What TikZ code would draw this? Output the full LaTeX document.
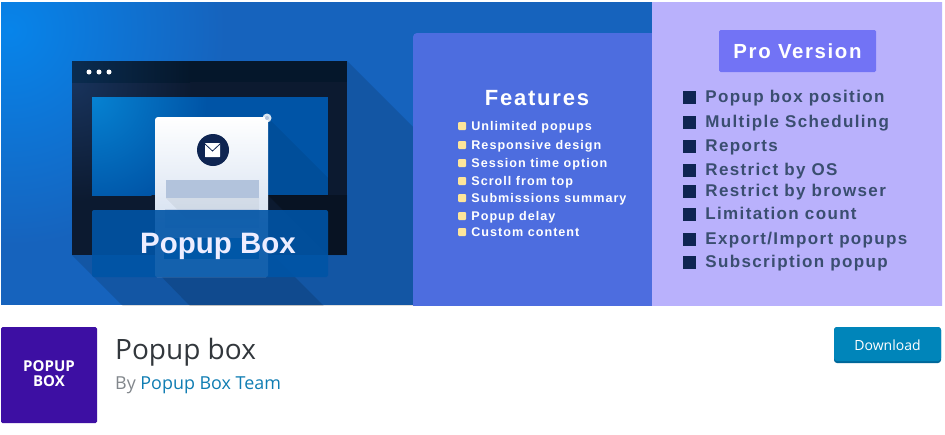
\documentclass[tikz,border=0pt]{standalone}
\usepackage{fontspec}
\usetikzlibrary{positioning}
\newfontfamily\bannerfont[LetterSpace=8]{Liberation Sans}
\newfontfamily\headfont{Liberation Sans}
\newfontfamily\wpfont{Open Sans}
\definecolor{bannerblue}{HTML}{1663BD}
\definecolor{bannerglow}{HTML}{0784EA}
\definecolor{windowdark}{HTML}{0C1A30}
\definecolor{windowglow}{HTML}{18335C}
\definecolor{barblue}{HTML}{05172B}
\definecolor{barglow}{HTML}{0A2C50}
\definecolor{screenblue}{HTML}{0054A6}
\definecolor{screenglow}{HTML}{0682D2}
\definecolor{popupfade}{HTML}{D3DFF0}
\definecolor{fieldgray}{HTML}{B2C3DC}
\definecolor{featpanel}{HTML}{4D6DDF}
\definecolor{propanel}{HTML}{B9B1FC}
\definecolor{probutton}{HTML}{7273F5}
\definecolor{navy}{HTML}{0F2552}
\definecolor{protext}{HTML}{3A4E70}
\definecolor{cream}{HTML}{FDE59A}
\definecolor{logopurple}{HTML}{3D0FA3}
\definecolor{wplink}{HTML}{0F7DB3}
\definecolor{wpgray}{HTML}{82878C}
\definecolor{wptitle}{HTML}{32373C}
\definecolor{wpbutton}{HTML}{0085BA}
\definecolor{wpedge}{HTML}{006799}
\begin{document}
\begin{tikzpicture}[
	x=1pt, y=-1pt,
	featmark/.style={
		fill=cream, rounded corners=1pt,
		minimum size=8pt, inner sep=0pt
	},
	featitem/.style={
		text=white, inner sep=0pt,
		text height=10pt, text depth=2pt,
		font=\bannerfont\bfseries\fontsize{12.6}{14}\selectfont
	},
	promark/.style={
		fill=navy, minimum size=13pt, inner sep=0pt
	},
	proitem/.style={
		text=protext, inner sep=0pt,
		text height=13pt, text depth=2pt,
		font=\bannerfont\bfseries\fontsize{17}{20}\selectfont
	},
	lid/.style={fill=black, opacity=.13}
	]
	\useasboundingbox (0,0) rectangle (945,434);
	\fill[white] (0,0) rectangle (945,434);
	\begin{scope}
		\clip (1,2) rectangle (942,305);
		\fill[bannerblue] (1,2) rectangle (942,305);
		\shade[inner color=bannerglow, outer color=bannerblue] (10,30) circle (215);
		% long shadow of the window
		\fill[lid] (347,61) -- (600,314) -- (131,314) -- (72,255) -- cycle;
		\begin{scope}
			\clip (72,61) rectangle (347,255);
			\fill[windowdark] (72,61) rectangle (347,255);
			\shade[inner color=windowglow, outer color=windowdark] (72,82) circle (120);
			\fill[barblue] (72,61) rectangle (347,82);
			\shade[left color=barglow, right color=barblue] (72,61) rectangle (190,82);
		\end{scope}
		\foreach \i in {0,1,2}
			\fill[white] (89+10*\i,72) circle (2.5);
		\begin{scope}
			\clip (92,97) rectangle (328,195);
			\fill[screenblue] (92,97) rectangle (328,195);
			\shade[inner color=screenglow, outer color=screenblue] (92,97) circle (115);
			% shadow of the popup
			\fill[black, opacity=.07] (268,118) -- (420,270) -- (268,270) -- cycle;
		\end{scope}
		\fill[black, opacity=.25] (268,195) -- (347,195) -- (347,255) -- (328,255) -- cycle;
		\fill[lid] (268,250) -- (324,306) -- (190,306) -- (155,270) -- cycle;
		\shade[top color=white, bottom color=popupfade, rounded corners=3pt] (155,117) rectangle (268,230);
		\fill[popupfade, rounded corners=2pt] (155,225) rectangle (268,277);
		\fill[white, opacity=.85] (267,118) circle (4.5);
		\fill[fieldgray] (267,118) circle (2);
		\fill[navy] (213,150) circle (16);
		\fill[white, rounded corners=.5pt] (205,143) rectangle (220,157);
		\draw[navy, thick] (205,144) -- (212.5,151) -- (220,144);
		\fill[black, opacity=.05] (166,198) -- (186,218) -- (259,218) -- (259,198) -- cycle;
		\fill[fieldgray] (166,180) rectangle (259,198);
		\fill[fieldgray, opacity=.6] (165,209) rectangle (259,228);
		\fill[screenblue!80!cyan] (164,238) rectangle (259,259);
		\fill[screenblue, opacity=.9, rounded corners=2pt] (92,210) rectangle (328,277);
		\node[text=white!93!blue, inner sep=0pt, font=\headfont\bfseries\fontsize{29.5}{32}\selectfont] (brand) at (218,246) {Popup Box};
		\fill[featpanel, rounded corners=4pt] (413,33) rectangle (680,320);
		\fill[propanel, rounded corners=2pt] (652,-5) rectangle (960,320);
	\end{scope}
	\node[text=white, inner sep=0pt, font=\bannerfont\bfseries\fontsize{22}{26}\selectfont] (features) at (537,98) {Features};
	\foreach \i/\y/\txt in {1/126/Unlimited popups, 2/145/Responsive design, 3/163/Session time option, 4/181/Scroll from top, 5/198/Submissions summary, 6/216/Popup delay, 7/232/Custom content}
	{
		\node[featmark] (fm\i) at (462,\y) {};
		\node[featitem, right=5pt of fm\i] (ft\i) {\txt};
	}
	\node[fill=probutton, rounded corners=1.5pt, minimum width=157pt, minimum height=42pt, text=white, font=\bannerfont\bfseries\fontsize{20.4}{24}\selectfont] (pro) at (797.5,51) {Pro Version};
	\foreach \i/\y/\txt in {1/97/Popup box position, 2/122/Multiple Scheduling, 3/146/Reports, 4/170/Restrict by OS, 5/191/Restrict by browser, 6/214/Limitation count, 7/239/Export{/}Import popups, 8/262/Subscription popup}
	{
		\node[promark] (pm\i) at (689.5,\y) {};
		\node[proitem, right=9pt of pm\i] (pt\i) {\txt};
	}
	\node[fill=logopurple, rounded corners=1.5pt, minimum size=96pt, inner sep=0pt] (logo) at (49,375) {};
	\node[text=white, align=center, inner sep=0pt, font=\wpfont\bfseries\fontsize{15}{15}\selectfont] (logotext) at (49,374) {POPUP\\BOX};
	\node[anchor=base west, inner sep=0pt, text=wptitle, font=\wpfont\fontsize{28}{30}\selectfont] (title) at (115,359) {Popup box};
	\node[anchor=base west, inner sep=0pt, text=wpgray, font=\wpfont\fontsize{17.9}{20}\selectfont] (byline) at (115,389) {By \textcolor{wplink}{Popup Box Team}};
	\fill[wpedge, rounded corners=3pt] (834,327) rectangle (941,363);
	\node[fill=wpbutton, rounded corners=3pt, minimum width=107pt, minimum height=34pt, inner sep=0pt, text=white, text height=12pt, text depth=0pt, font=\wpfont\fontsize{14}{16}\selectfont] (download) at (887.5,344) {Download};
\end{tikzpicture}
\end{document}
